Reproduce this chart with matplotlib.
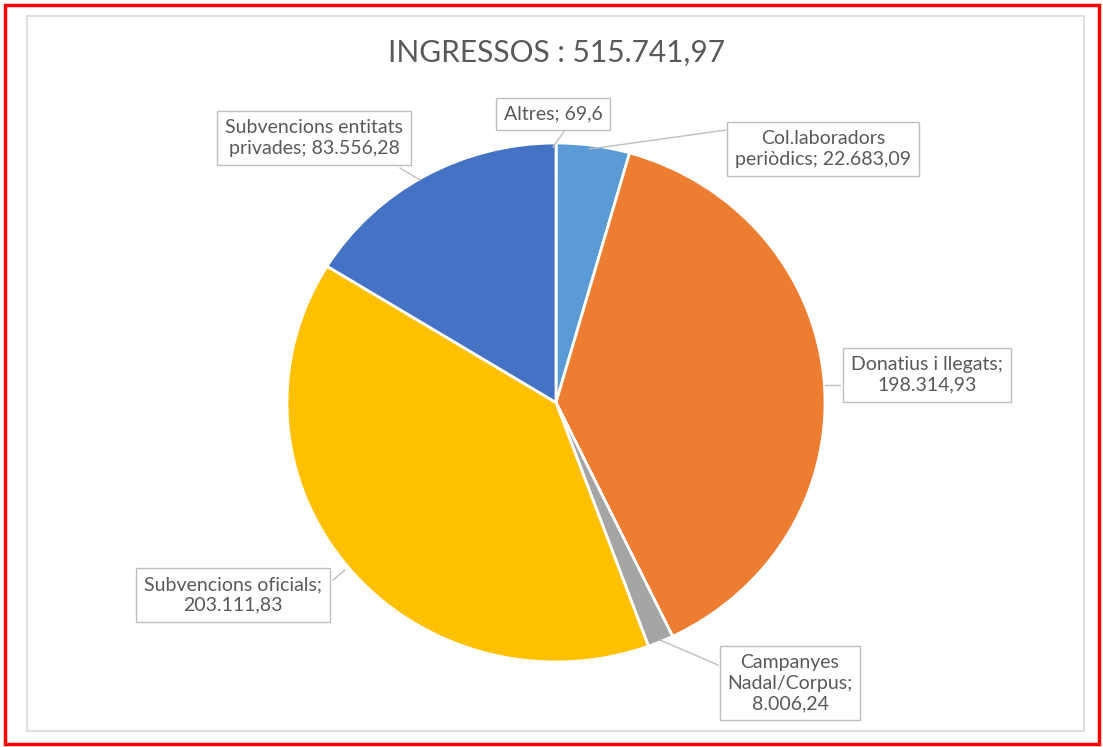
import numpy as np
import matplotlib.pyplot as plt
from matplotlib.patches import Rectangle

# Data
categories = ["Altres", "Col.laboradors\nperiòdics", "Donatius i llegats;", "Campanyes\nNadal/Corpus;",
              "Subvencions oficials;", "Subvencions entitats\nprivades"]
values = [69.6, 22683.09, 198314.93, 8006.24, 203111.83, 83556.28]
value_text = ["69,6", "22.683,09", "198.314,93", "8.006,24", "203.111,83", "83.556,28"]
colors = ["#7f7f7f", "#5b9bd5", "#ed7d31", "#a5a5a5", "#ffc000", "#4472c4"]
title = "INGRESSOS : 515.741,97"

plt.rcParams['font.family'] = ['Lato', 'DejaVu Sans']

W, H = 1103, 747
fig = plt.figure(figsize=(W / 100, H / 100), dpi=100)

# pie axes, placed in pixel terms (pie is slightly wider than tall in the reference)
px0, px1, py0, py1 = 287, 825, 143, 662
ax = fig.add_axes([px0 / W, (H - py1) / H, (px1 - px0) / W, (py1 - py0) / H])
ax.pie(values, colors=colors, startangle=90, counterclock=False,
       wedgeprops=dict(edgecolor="white", linewidth=2))
ax.set_aspect('auto')
ax.set_xlim(-1, 1)
ax.set_ylim(-1, 1)
ax.axis('off')

# overlay axes in pixel coordinates for borders, title and callouts
ov = fig.add_axes([0, 0, 1, 1], zorder=5)
ov.set_xlim(0, W)
ov.set_ylim(H, 0)
ov.axis('off')
ov.patch.set_alpha(0)

ov.add_patch(Rectangle((27, 16), 1057, 715, fill=False, edgecolor="#d9d9d9", linewidth=1.2))
ov.add_patch(Rectangle((5, 5), 1094, 739, fill=False, edgecolor="#ff0000", linewidth=2.5))

ov.text(556, 53, title, ha="center", va="center", fontsize=21.5, color="#595959")

# callout label boxes: centre of box and the point on the pie it refers to
box_pos = [(553, 114), (823, 149), (927, 375), (790, 683), (233, 595), (314, 138)]
tips = [(553, 147), (590, 149), (825, 385), (660, 640), (345, 570), (420, 180)]
roots = [(565, 130), (726, 130), (840, 385), (718, 665), (333, 580), (400, 168)]

for i in range(len(values)):
    lab = categories[i]
    if lab.endswith(";"):
        txt = lab + "\n" + value_text[i]
    else:
        txt = lab + "; " + value_text[i]
    if i == 3:
        txt = "Campanyes\nNadal/Corpus;\n" + value_text[i]
    ov.text(box_pos[i][0], box_pos[i][1], txt, ha="center", va="center",
            fontsize=14, color="#595959", linespacing=1.25,
            bbox=dict(boxstyle="square,pad=0.4", facecolor="white", edgecolor="#bfbfbf", linewidth=1))
    ov.plot([roots[i][0], tips[i][0]], [roots[i][1], tips[i][1]], color="#bfbfbf", linewidth=1, zorder=1)

fig.savefig("out.png", dpi=100)
